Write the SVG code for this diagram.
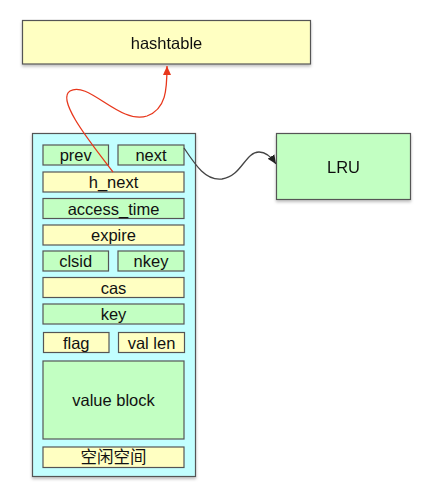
<svg xmlns="http://www.w3.org/2000/svg" width="425" height="499" viewBox="0 0 425 499">
<style>
.b{stroke:#555;stroke-width:1.2}
.y{fill:#FFFFC2}
.g{fill:#C2FFC2}
.c{fill:#C2FFFF}
text{font-family:"Liberation Sans",Arial,sans-serif;font-size:16.5px;fill:#111;text-anchor:middle;dominant-baseline:central}
.cjk{font-family:"Liberation Sans","Noto Sans CJK SC",sans-serif}
</style>
<defs>
<filter id="sh" x="-10%" y="-10%" width="130%" height="130%">
<feDropShadow dx="0" dy="2" stdDeviation="1.5" flood-color="#000" flood-opacity="0.25"/>
</filter>
<marker id="ar" markerWidth="10" markerHeight="10" refX="9" refY="5" orient="auto" markerUnits="userSpaceOnUse">
<path d="M0,1 L9,5 L0,9 Z" fill="#E8371C"/>
</marker>
<marker id="ab" markerWidth="10" markerHeight="10" refX="9" refY="5" orient="auto" markerUnits="userSpaceOnUse">
<path d="M0,1 L9,5 L0,9 Z" fill="#222"/>
</marker>
</defs>
<g id="hashtable" filter="url(#sh)">
<rect class="b y" x="22.5" y="20.5" width="288" height="43.5"/>
<text x="166.5" y="43">hashtable</text>
</g>
<g id="LRU" filter="url(#sh)">
<rect class="b g" x="276.5" y="133.5" width="134" height="66"/>
<text x="343.5" y="166.5">LRU</text>
</g>
<g id="item" filter="url(#sh)">
<rect class="b c" x="32.5" y="133.5" width="163" height="343"/>
</g>
<g id="prev"><rect class="b g" x="43" y="145" width="65.5" height="20"/><text x="75.7" y="155">prev</text></g>
<g id="next"><rect class="b g" x="118" y="145" width="66" height="20"/><text x="151" y="155">next</text></g>
<g id="h_next"><rect class="b y" x="43" y="172" width="141" height="20"/><text x="113.5" y="182">h_next</text></g>
<g id="access_time"><rect class="b g" x="43" y="198.5" width="141" height="20"/><text x="113.5" y="208.5">access_time</text></g>
<g id="expire"><rect class="b y" x="43" y="225" width="141" height="20"/><text x="113.5" y="235">expire</text></g>
<g id="clsid"><rect class="b g" x="43" y="251" width="65.5" height="20"/><text x="75.7" y="261">clsid</text></g>
<g id="nkey"><rect class="b g" x="118" y="251" width="66" height="20"/><text x="151" y="261">nkey</text></g>
<g id="cas"><rect class="b y" x="43" y="277.5" width="141" height="20"/><text x="113.5" y="287.5">cas</text></g>
<g id="key"><rect class="b g" x="43" y="304" width="141" height="20"/><text x="113.5" y="314">key</text></g>
<g id="flag"><rect class="b y" x="43.5" y="332.5" width="65.5" height="20"/><text x="76.2" y="342.5">flag</text></g>
<g id="val_len"><rect class="b y" x="118.5" y="332.5" width="66" height="20"/><text x="151.5" y="342.5">val len</text></g>
<g id="value_block"><rect class="b g" x="43" y="361" width="141" height="78"/><text x="113.5" y="400">value block</text></g>
<g id="free_space"><rect class="b y" x="43" y="447" width="141" height="20.5"/><text class="cjk" x="113.5" y="457.3">空闲空间</text></g>
<g id="connectors" fill="none">
<path d="M113,172 C95,148 55,100 70,91 C88,80 120,125 147,116 C166,109 167,90 167,66" stroke="#E8371C" stroke-width="1.3" marker-end="url(#ar)"/>
<path d="M184,148 C196,166 206,181 222,179 C242,176 245,152 259,152 C267,152 272,158 276,164" stroke="#444" stroke-width="1.3" marker-end="url(#ab)"/>
</g>
</svg>
